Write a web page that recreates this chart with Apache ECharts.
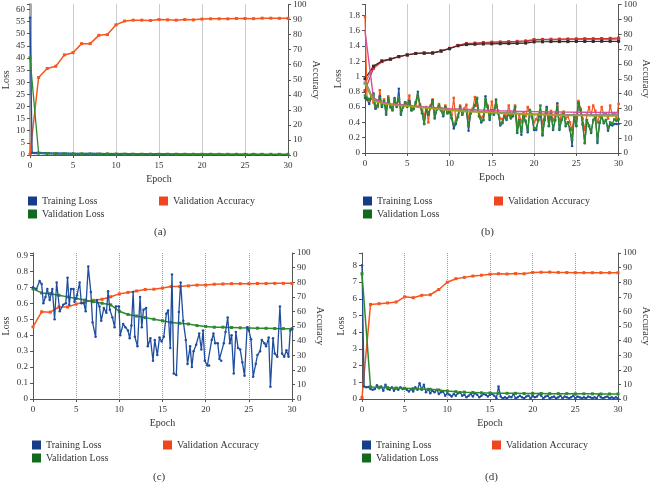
<!DOCTYPE html>
<html><head><meta charset="utf-8">
<script src="https://cdn.jsdelivr.net/npm/echarts@6/dist/echarts.min.js"></script>
<style>html,body{margin:0;padding:0;background:#fff}#c{width:652px;height:482px}</style>
</head><body><div id="c"></div>
<script>
// ---------------- DATA ----------------
// per-epoch series (epoch 0..30)
const aValAcc  = [0.5,51.5,57.5,59,66.5,68,74,74,79.5,80,86.5,89,89.6,89.6,89.4,90,89.8,89.6,90,89.8,90.3,90.5,90.5,90.5,90.7,90.7,90.6,90.9,90.9,90.8,90.8];
const aValLoss = [40,0.8,0.6,0.55,0.5,0.48,0.45,0.43,0.42,0.4,0.38,0.35,0.34,0.33,0.33,0.32,0.32,0.31,0.31,0.3,0.3,0.3,0.29,0.29,0.29,0.28,0.28,0.28,0.28,0.27,0.27];
// batch-level series, evenly spread over epochs 0..30
const aTrainLoss = [56.5,0.9,0.85,0.8,0.75,0.78,0.7,0.72,0.68,0.7,0.65,0.66,0.62,0.64,0.6,0.62,0.58,0.6,0.57,0.55,0.6,0.56,0.54,0.55,0.52,0.55,0.5,0.52,0.5,0.48,0.52,0.47,0.46,0.5,0.45,0.44,0.47,0.43,0.42,0.45,0.4,0.42,0.38,0.4,0.37,0.39,0.35,0.37,0.34,0.36,0.33,0.35,0.32,0.33,0.3,0.32,0.3,0.31,0.29,0.3,0.28,0.3,0.27,0.29,0.26,0.28,0.25,0.27,0.25,0.26,0.24,0.26,0.23,0.25,0.22,0.24,0.22,0.23,0.21,0.23,0.2,0.22,0.2,0.21,0.19,0.21,0.19,0.2,0.18,0.2,0.18,0.19,0.17,0.19,0.17,0.18,0.16,0.18,0.16,0.17,0.15,0.17,0.15,0.16,0.15,0.16,0.14,0.16,0.14,0.15,0.14,0.15,0.13,0.15,0.13,0.14,0.13,0.14,0.12,0.14,0.12];

const bTrainLoss = [0.72,0.70,0.64,0.72,0.78,0.58,0.62,0.74,0.60,0.68,0.50,0.70,0.60,0.56,0.72,0.60,0.84,0.50,0.60,0.66,0.60,0.68,0.56,0.57,0.66,0.80,0.62,0.52,0.38,0.57,0.50,0.60,0.69,0.45,0.57,0.60,0.56,0.48,0.60,0.52,0.54,0.45,0.32,0.38,0.47,0.60,0.50,0.56,0.55,0.29,0.52,0.56,0.62,0.70,0.48,0.40,0.43,0.74,0.60,0.43,0.56,0.50,0.70,0.52,0.36,0.39,0.48,0.43,0.52,0.45,0.48,0.60,0.26,0.43,0.24,0.48,0.41,0.27,0.56,0.47,0.30,0.30,0.43,0.52,0.23,0.43,0.60,0.35,0.52,0.30,0.43,0.65,0.30,0.43,0.52,0.35,0.40,0.30,0.09,0.47,0.35,0.65,0.56,0.37,0.13,0.43,0.35,0.26,0.43,0.48,0.13,0.39,0.48,0.39,0.43,0.29,0.37,0.36,0.38,0.38,0.38];
const bValLoss = [0.75,0.72,0.70,0.74,0.76,0.60,0.62,0.72,0.62,0.68,0.52,0.72,0.60,0.56,0.70,0.62,0.72,0.52,0.60,0.66,0.62,0.66,0.56,0.58,0.66,0.76,0.62,0.54,0.38,0.58,0.52,0.60,0.68,0.46,0.57,0.62,0.56,0.50,0.60,0.52,0.55,0.46,0.37,0.40,0.47,0.60,0.50,0.56,0.55,0.35,0.52,0.56,0.62,0.72,0.48,0.42,0.43,0.70,0.60,0.45,0.56,0.52,0.68,0.52,0.38,0.40,0.48,0.45,0.52,0.46,0.50,0.60,0.28,0.43,0.28,0.48,0.42,0.30,0.56,0.47,0.32,0.32,0.43,0.62,0.25,0.43,0.58,0.36,0.52,0.32,0.43,0.60,0.32,0.43,0.52,0.36,0.40,0.32,0.17,0.47,0.36,0.66,0.56,0.38,0.13,0.43,0.36,0.28,0.43,0.48,0.16,0.40,0.48,0.40,0.43,0.32,0.40,0.38,0.44,0.42,0.44];
const bRun2Loss = [1.78,0.70,0.68,0.72,0.66,0.58,0.60,0.82,0.62,0.70,0.55,0.74,0.62,0.58,0.68,0.62,0.70,0.55,0.62,0.66,0.64,0.75,0.56,0.60,0.62,0.74,0.64,0.56,0.48,0.60,0.40,0.62,0.70,0.50,0.58,0.64,0.58,0.50,0.62,0.56,0.56,0.50,0.72,0.42,0.50,0.62,0.52,0.58,0.63,0.45,0.56,0.58,0.73,0.62,0.50,0.46,0.48,0.66,0.62,0.50,0.67,0.52,0.62,0.55,0.45,0.44,0.50,0.48,0.62,0.50,0.52,0.62,0.35,0.50,0.40,0.52,0.48,0.60,0.56,0.50,0.40,0.44,0.50,0.55,0.38,0.50,0.60,0.45,0.55,0.42,0.50,0.62,0.42,0.50,0.54,0.45,0.48,0.40,0.30,0.50,0.45,0.68,0.58,0.45,0.30,0.50,0.60,0.50,0.62,0.55,0.40,0.48,0.60,0.50,0.52,0.45,0.62,0.50,0.52,0.45,0.64];
// smoothed loss curves (per epoch)
const bSmoothPink  = [1.6,0.72,0.66,0.64,0.63,0.62,0.61,0.60,0.595,0.59,0.58,0.575,0.57,0.565,0.56,0.555,0.55,0.548,0.545,0.543,0.54,0.538,0.536,0.535,0.534,0.533,0.532,0.531,0.53,0.53,0.53];
const bSmoothOlive = [0.9,0.68,0.65,0.63,0.62,0.61,0.60,0.59,0.58,0.57,0.56,0.55,0.54,0.535,0.53,0.525,0.52,0.515,0.51,0.505,0.50,0.50,0.495,0.495,0.49,0.49,0.49,0.485,0.485,0.485,0.485];
const bSmoothGray  = [0.95,0.70,0.66,0.64,0.63,0.62,0.61,0.60,0.59,0.58,0.57,0.56,0.55,0.545,0.54,0.535,0.53,0.525,0.52,0.515,0.51,0.51,0.505,0.505,0.50,0.50,0.50,0.50,0.50,0.50,0.50];
// accuracy curves (per epoch)
const bAccRed   = [42,57,61.5,63,64.8,66,67,67.3,67.5,68.8,70.5,72.5,73.8,74,74.4,74.6,74.8,75,75.2,75.5,76.4,76.5,76.6,76.7,76.8,76.9,77,77,77.1,77.2,77.4];
const bAccBlack = [50,58.5,62,63.2,65,66,67,67.2,67.3,68.6,70.2,72.2,73,73.2,73.4,73.5,73.6,73.7,73.8,74,74.8,74.9,75,75,75,75.1,75.1,75.1,75.2,75.2,75.2];
const bAccGray  = [47,58,62,63.3,64.9,66.2,67.1,67.3,67.4,68.7,70.4,72.4,73.4,73.6,74,74.1,74.3,74.5,74.6,74.8,76,76.1,76.2,76.2,76.3,76.3,76.4,76.4,76.5,76.5,76.6];

const cTrainEpoch = [0,0.4,0.77,1.0,1.2,1.45,1.66,1.93,2.24,2.5,2.74,3.1,3.5,3.8,4.0,4.2,4.4,4.7,4.8,5.1,5.4,5.6,5.9,6.1,6.4,6.7,6.9,7.25,7.4,7.7,7.9,8.2,8.5,8.7,8.9,9.2,9.45,9.6,9.95,10.1,10.45,10.7,11.0,11.2,11.4,11.6,11.8,12.1,12.4,12.6,12.8,13.1,13.3,13.6,13.9,14.1,14.4,14.65,14.9,15.15,15.45,15.65,15.9,16.1,16.3,16.6,16.9,17.1,17.4,17.7,17.9,18.2,18.4,18.6,18.9,19.25,19.5,19.7,19.9,20.2,20.4,20.7,20.9,21.1,21.4,21.6,21.8,22.1,22.3,22.55,22.8,23.0,23.25,23.5,23.75,24.0,24.25,24.5,24.8,25.0,25.25,25.5,25.8,26.0,26.3,26.5,26.8,27.0,27.3,27.5,27.8,28.0,28.3,28.6,28.85,29.1,29.35,29.6,29.8,30.0];
const cTrainLoss = [0.70,0.69,0.74,0.72,0.60,0.64,0.69,0.62,0.69,0.50,0.73,0.55,0.59,0.60,0.76,0.59,0.69,0.69,0.61,0.65,0.73,0.60,0.60,0.55,0.83,0.67,0.48,0.39,0.62,0.58,0.49,0.57,0.54,0.675,0.56,0.51,0.45,0.58,0.58,0.40,0.47,0.45,0.43,0.38,0.46,0.67,0.39,0.33,0.64,0.45,0.56,0.57,0.33,0.38,0.24,0.37,0.275,0.385,0.36,0.39,0.535,0.555,0.32,0.78,0.16,0.15,0.545,0.73,0.49,0.37,0.22,0.33,0.20,0.30,0.34,0.41,0.31,0.43,0.24,0.21,0.21,0.37,0.41,0.35,0.35,0.25,0.24,0.35,0.42,0.51,0.35,0.40,0.16,0.42,0.32,0.31,0.23,0.145,0.45,0.43,0.375,0.14,0.22,0.275,0.30,0.37,0.35,0.33,0.385,0.077,0.38,0.285,0.265,0.58,0.285,0.265,0.305,0.265,0.43,0.44];
const cValLoss = [0.69,0.665,0.66,0.65,0.64,0.63,0.62,0.61,0.60,0.59,0.55,0.53,0.52,0.51,0.50,0.49,0.48,0.475,0.47,0.46,0.455,0.45,0.45,0.448,0.446,0.445,0.444,0.443,0.442,0.441,0.44];
const cValAcc  = [49.4,59.7,59.5,63,63,65,66.5,67.6,68.3,70,72,73,74,75,75.2,76,77,77,77.5,78,78,78.6,78.8,79,79,79,79.1,79.1,79.2,79.2,79.2];

const dTrainLoss = [8.0,0.75,0.7,0.72,0.6,0.55,0.6,0.82,0.65,0.75,0.5,0.85,0.6,0.55,0.7,0.5,0.65,0.55,0.7,0.6,0.65,0.55,0.45,0.6,0.45,0.7,0.55,0.95,0.55,0.85,0.4,0.6,0.35,0.5,0.4,0.55,0.3,0.4,0.45,0.2,0.35,0.25,0.15,0.3,0.2,0.35,0.4,0.2,0.25,0.1,0.2,0.3,0.15,0.35,0.25,0.1,0.2,0.3,0.25,0.15,0.25,0.3,0.2,0.05,0.75,0.15,0.05,0.1,0.05,0.15,0.1,0.3,0.05,0.1,0.2,0.1,0.05,0.15,0.2,0.05,0.2,0.1,0.15,0.3,0.2,0.05,0.15,0.2,0.05,0.1,0.15,0.05,0.1,0.2,0.05,0.15,0.1,0.05,0.1,0.2,0.05,0.15,0.1,0.05,0.1,0.05,0.15,0.1,0.05,0.1,0.05,0.25,0.1,0.05,0.1,0.15,0.05,0.1,0.05,0.1,0.05];
const dValLoss = [7.5,0.72,0.7,0.68,0.66,0.64,0.62,0.6,0.58,0.54,0.48,0.44,0.41,0.39,0.37,0.36,0.35,0.34,0.34,0.33,0.33,0.33,0.32,0.32,0.32,0.31,0.31,0.31,0.3,0.3,0.3];
const dValAcc  = [1,64.8,65.3,65.8,66.4,70,69.4,71,71.4,75,80,82.4,83.3,84.2,84.8,85.5,85.8,85.6,85.9,85.8,86.7,86.8,86.9,86.7,86.6,86.5,86.5,86.5,86.5,86.5,86.5];

const legendLeft = ['Training Loss','Validation Loss'];
const legendRight = ['Validation Accuracy'];
const captions = ['(a)','(b)','(c)','(d)'];
const lossMax = [62, 1.94, 0.915, 8.74];
const lossStep = [5, 0.2, 0.1, 1];

// ---------------- CHART ----------------
const FONT = '"Liberation Serif","DejaVu Serif",serif';
const C_BLUE = '#1f4e9f', C_GREEN = '#2c8a2c', C_ORANGE = '#f5561e';
const L_BLUE = '#163d8c', L_GREEN = '#126a1e', L_ORANGE = '#f0461e';

const grids = [
  {left:29, top:4, width:259, height:151},
  {left:365, top:3, width:256, height:150},
  {left:32, top:253, width:260, height:146},
  {left:362, top:253, width:256, height:146}
];
const lossGap = [19, 22, 22, 16];
const accGap = [23, 22, 23, 23];

function perEpoch(arr){ return arr.map((v,i)=>[i,v]); }
function spread(arr){ const n=arr.length; return arr.map((v,i)=>[i*30/(n-1), v]); }
function pairs(xs, ys){ return ys.map((v,i)=>[xs[i], v]); }
function fmt(step){ return v => { const k=v/step; return Math.abs(k-Math.round(k))<1e-6 ? String(+v.toFixed(2)) : ''; }; }

const axisLineStyle = {color:'#555', width:1};
const labelStyle = {fontFamily:FONT, fontSize:9, color:'#333'};
const nameStyle = {fontFamily:FONT, fontSize:10, color:'#333'};

const xAxis = grids.map((g,i)=>({
  type:'value', gridIndex:i, min:0, max:30, interval:5,
  axisLine:{show:true, lineStyle:axisLineStyle}, axisTick:{show:true, length:3, lineStyle:axisLineStyle},
  axisLabel:{...labelStyle, margin:6},
  splitLine:{show:true, lineStyle:{type:'dotted', color:'#999', width:1}},
  name:'Epoch', nameLocation:'middle', nameGap:19, nameTextStyle:nameStyle
}));
const yAxis = [];
grids.forEach((g,i)=>{
  yAxis.push({type:'value', gridIndex:i, position:'left', min:0, max:lossMax[i], interval:lossStep[i],
    axisLine:{show:true, lineStyle: i===0 ? {color:'#aaa', width:3} : axisLineStyle},
    axisTick:{show:true, length:3, lineStyle:axisLineStyle},
    axisLabel:{...labelStyle, margin:5, formatter:fmt(lossStep[i])},
    splitLine:{show:false},
    name:'Loss', nameLocation:'middle', nameGap:lossGap[i], nameRotate:90, nameTextStyle:nameStyle});
  yAxis.push({type:'value', gridIndex:i, position:'right', min:0, max:100, interval:10,
    axisLine:{show:true, lineStyle:axisLineStyle},
    axisTick:{show:true, length:3, lineStyle:axisLineStyle},
    axisLabel:{...labelStyle, margin:5},
    splitLine:{show:false},
    name:'Accuracy', nameLocation:'middle', nameGap:accGap[i], nameRotate:-90, nameTextStyle:nameStyle});
});

function line(name, data, gi, right, color, sym, size, width, z){
  return {type:'line', name, data, xAxisIndex:gi, yAxisIndex:gi*2+(right?1:0),
    symbol:sym, symbolSize:size, showSymbol:true, lineStyle:{color, width:width||1.3},
    itemStyle:{color}, animation:false, z:z||2, emphasis:{disabled:true}};
}

const series = [
  // (a)
  line('Validation Accuracy', perEpoch(aValAcc), 0, true, C_ORANGE, 'rect', 3, 1.5, 2),
  line('Training Loss', spread(aTrainLoss), 0, false, C_BLUE, 'circle', 2.5, 1.3, 3),
  line('Validation Loss', perEpoch(aValLoss), 0, false, C_GREEN, 'rect', 3, 1.3, 4),
  // (b)
  line('b acc 1', perEpoch(bAccGray), 1, true, '#888', 'rect', 3, 1.2, 2),
  line('b acc 2', perEpoch(bAccRed), 1, true, '#d42a2a', 'rect', 3, 1.2, 2),
  line('b acc 3', perEpoch(bAccBlack), 1, true, '#3a2a2a', 'rect', 3, 1.2, 2),
  line('b run 2', spread(bRun2Loss), 1, false, C_ORANGE, 'rect', 2.5, 1.2, 3),
  line('Training Loss', spread(bTrainLoss), 1, false, C_BLUE, 'circle', 2.5, 1.2, 3),
  line('Validation Loss', spread(bValLoss), 1, false, C_GREEN, 'rect', 2.5, 1.4, 4),
  line('b smooth 1', perEpoch(bSmoothGray), 1, false, '#8a8a8a', 'none', 0, 1.4, 5),
  line('b smooth 2', perEpoch(bSmoothPink), 1, false, '#d6509a', 'none', 0, 1.4, 5),
  line('b smooth 3', perEpoch(bSmoothOlive), 1, false, '#a5a020', 'none', 0, 1.6, 5),
  // (c)
  line('Validation Accuracy', perEpoch(cValAcc), 2, true, C_ORANGE, 'rect', 3, 1.5, 2),
  line('Validation Loss', perEpoch(cValLoss), 2, false, C_GREEN, 'rect', 3, 1.5, 3),
  line('Training Loss', pairs(cTrainEpoch, cTrainLoss), 2, false, C_BLUE, 'circle', 2.5, 1.3, 4),
  // (d)
  line('Validation Accuracy', perEpoch(dValAcc), 3, true, C_ORANGE, 'rect', 3, 1.5, 2),
  line('Training Loss', spread(dTrainLoss), 3, false, C_BLUE, 'circle', 2.5, 1.3, 3),
  line('Validation Loss', perEpoch(dValLoss), 3, false, C_GREEN, 'rect', 3, 1.5, 4)
];

const legendPos = [
  {l:23, r:154, t:191}, {l:358, r:489, t:191}, {l:27, r:158, t:435}, {l:357, r:487, t:435}
];
const legendColors = {'Training Loss':L_BLUE, 'Validation Loss':L_GREEN, 'Validation Accuracy':L_ORANGE};
const legend = [];
legendPos.forEach(p=>{
  legend.push({left:p.l, top:p.t, orient:'vertical', itemWidth:9, itemHeight:9, itemGap:3, icon:'rect',
    selectedMode:false, textStyle:{fontFamily:FONT, fontSize:10, color:'#333'},
    data: legendLeft.map(n=>({name:n, itemStyle:{color:legendColors[n]}}))});
  legend.push({left:p.r, top:p.t, orient:'vertical', itemWidth:9, itemHeight:9, icon:'rect',
    selectedMode:false, textStyle:{fontFamily:FONT, fontSize:10, color:'#333'},
    data: legendRight.map(n=>({name:n, itemStyle:{color:legendColors[n]}}))});
});

const capPos = [[162,234],[489,234],[161,479],[493,479]];
const graphic = captions.map((t,i)=>({type:'text', left:capPos[i][0]-8, top:capPos[i][1]-7,
  style:{text:t, font:'11px '+FONT, fill:'#333'}}));

const chart = echarts.init(document.getElementById('c'), null, {renderer:'canvas'});
chart.setOption({animation:false, backgroundColor:'#fff', grid:grids, xAxis, yAxis, series, legend, graphic});
</script></body></html>
